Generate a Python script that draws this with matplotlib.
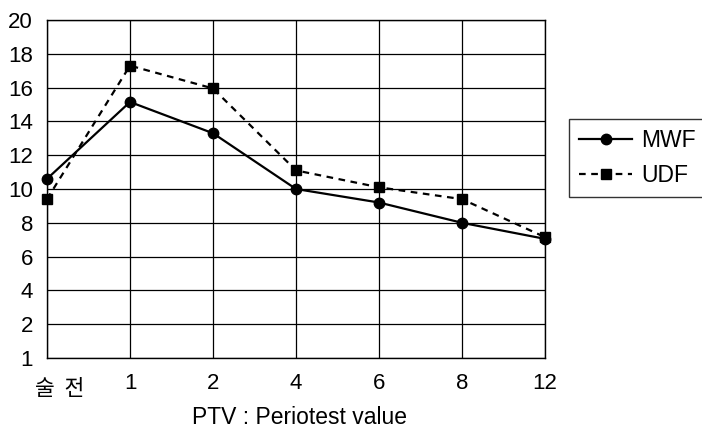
import numpy as np
import matplotlib
matplotlib.use("Agg")
import matplotlib.pyplot as plt

plt.rcParams['font.family'] = ['Liberation Sans', 'Noto Sans CJK KR', 'DejaVu Sans']

# data
categories = ['술 전', '1', '2', '4', '6', '8', '12']
mwf = [10.6, 15.15, 13.3, 10.0, 9.2, 8.0, 7.05]
udf = [9.4, 17.3, 15.95, 11.1, 10.1, 9.4, 7.15]
y_ticks = [0, 2, 4, 6, 8, 10, 12, 14, 16, 18, 20]
y_labels = ['1', '2', '4', '6', '8', '10', '12', '14', '16', '18', '20']

W, H = 702, 429
fig = plt.figure(figsize=(W / 100, H / 100), dpi=100)
ax = fig.add_axes([47 / W, 1 - 358 / H, (545 - 47) / W, (358 - 20) / H])

x = np.arange(len(categories))
ax.plot(x, mwf, color='black', lw=1.6, marker='o', ms=7.5, label='MWF', clip_on=False, zorder=3)
ax.plot(x, udf, color='black', lw=1.6, ls=(0, (3, 2.5)), marker='s', ms=7,
        label='UDF', clip_on=False, zorder=3)

ax.set_xlim(0, len(categories) - 1)
ax.set_ylim(0, 20)
ax.set_yticks(y_ticks)
ax.set_yticklabels(y_labels, fontsize=16)
ax.set_xticks(x)
ax.set_xticklabels([''] + categories[1:], fontsize=16)
ax.tick_params(axis='x', length=0, pad=11)
ax.tick_params(axis='y', length=0, pad=10)
ax.grid(True, color='black', lw=0.9)
for s in ax.spines.values():
    s.set_linewidth(1.0)

# first category label is drawn on its own, wider spaced and a bit lower
fig.text(60 / W, 1 - 389 / H, '술  전', ha='center', va='center',
         fontsize=15.5, family=['Noto Sans CJK KR', 'DejaVu Sans'])

fig.text(299 / W, 1 - 418 / H, 'PTV : Periotest value',
         ha='center', va='center', fontsize=16.5)

leg = ax.legend(loc='upper left', mode='expand',
                bbox_to_anchor=(569 / W, 1 - 194 / H, 160 / W, 75 / H),
                bbox_transform=fig.transFigure, frameon=True, fancybox=False,
                fontsize=16.5, handlelength=2.3, borderpad=0.45, labelspacing=0.5,
                handletextpad=0.4, borderaxespad=0)
leg.get_frame().set_edgecolor('black')
leg.get_frame().set_linewidth(1.0)

fig.savefig('out.png', dpi=100)
